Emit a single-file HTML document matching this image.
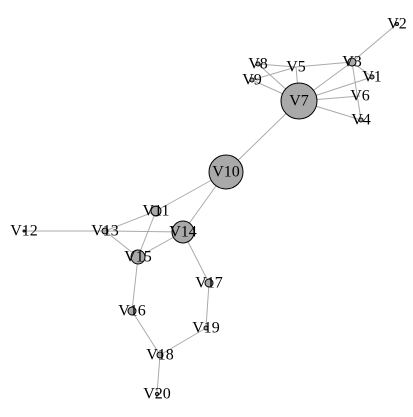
<!DOCTYPE html>
<html><head><meta charset="utf-8"><style>
html,body{margin:0;padding:0;background:#fff;}
svg{display:block;}
text{font-family:"Liberation Serif",serif;font-size:16px;fill:#000;text-anchor:middle;dominant-baseline:central;}
</style></head><body>
<svg id="g" width="413" height="417"></svg>
<script>
const nodeNames=["V1","V2","V3","V4","V5","V6","V7","V8","V9","V10","V11","V12","V13","V14","V15","V16","V17","V18","V19","V20"];
const nodeX=[372,397,352,361,296,360,299,258,252,226,156,24,105,183,138,132,209,160,206,157];
const nodeY=[77,24,62,120,67,96,101,64,80,172,211,231,231,232,257,311,283,355,328,394];
const nodeR=[2,1.5,4,2,0,0,18,2,2,17,5,1,3,11,7,4,4,3,2,1.5];
const edgeFrom=["V2","V3","V3","V3","V3","V5","V5","V5","V8","V9","V7","V7","V7","V7","V10","V10","V11","V11","V13","V13","V13","V15","V15","V16","V18","V18","V19","V17"];
const edgeTo=["V3","V5","V7","V1","V4","V8","V9","V7","V7","V7","V1","V6","V4","V10","V11","V14","V13","V15","V12","V14","V15","V14","V16","V18","V20","V19","V17","V14"];
const NS="http://www.w3.org/2000/svg";
const svg=document.getElementById('g');
const idx=n=>nodeNames.indexOf(n);
for(let i=0;i<edgeFrom.length;i++){
  const a=idx(edgeFrom[i]),b=idx(edgeTo[i]);
  const l=document.createElementNS(NS,'line');
  l.setAttribute('x1',nodeX[a]);l.setAttribute('y1',nodeY[a]);
  l.setAttribute('x2',nodeX[b]);l.setAttribute('y2',nodeY[b]);
  l.setAttribute('stroke','#aaa');l.setAttribute('stroke-width','1');
  
  
  svg.appendChild(l);
}
for(let i=0;i<nodeNames.length;i++){
  if(nodeR[i]>0){
    const c=document.createElementNS(NS,'circle');
    c.setAttribute('cx',nodeX[i]);c.setAttribute('cy',nodeY[i]);c.setAttribute('r',nodeR[i]);
    c.setAttribute('fill','#a9a9a9');c.setAttribute('stroke','#000');c.setAttribute('stroke-width','1');
    
    
    svg.appendChild(c);
  }
}
for(let i=0;i<nodeNames.length;i++){
  const t=document.createElementNS(NS,'text');
  t.setAttribute('x',nodeX[i]);t.setAttribute('y',nodeY[i]);
  t.textContent=nodeNames[i];
  
  
  svg.appendChild(t);
}
</script>
</body></html>
